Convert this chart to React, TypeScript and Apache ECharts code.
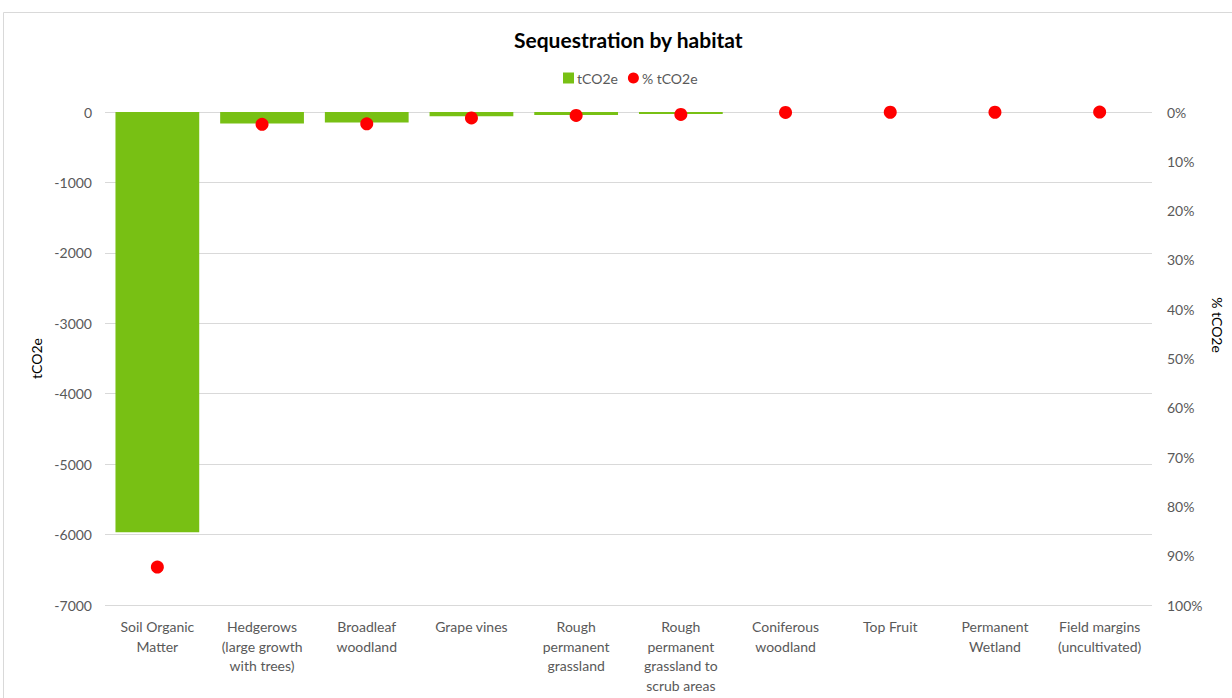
import React, { useEffect, useRef } from "react";
import * as echarts from "echarts";

// Habitat categories shown along the bottom axis
const habitats: string[] = [
  "Soil Organic\nMatter",
  "Hedgerows\n(large growth\nwith trees)",
  "Broadleaf\nwoodland",
  "Grape vines",
  "Rough\npermanent\ngrassland",
  "Rough\npermanent\ngrassland to\nscrub areas",
  "Coniferous\nwoodland",
  "Top Fruit",
  "Permanent\nWetland",
  "Field margins\n(uncultivated)",
];

// Sequestration per habitat (tCO2e, negative = removed)
const tco2e: number[] = [-5967, -165, -150, -61, -42, -28, 0, 0, 0, 0];

// Share of total sequestration per habitat (%)
const pctTco2e: number[] = [92.3, 2.5, 2.4, 1.2, 0.7, 0.5, 0.1, 0.05, 0.05, 0.02];

// Tick settings
const leftMin = -7000;
const leftMax = 0;
const leftStep = 1000;
const rightMin = 0;
const rightMax = 100;
const rightStep = 10;

const FONT = "Lato, 'Open Sans', sans-serif";
const TEXT = "#595959";
const GRID = "#d9d9d9";
const GREEN = "#78C014";
const RED = "#FF0000";

export default function App() {
  const ref = useRef<HTMLDivElement>(null);

  useEffect(() => {
    if (!ref.current) return;
    const chart = echarts.init(ref.current, undefined, { renderer: "svg" });
    chart.setOption({
      animation: false,
      backgroundColor: "#ffffff",
      textStyle: { fontFamily: FONT },
      title: {
        text: "Sequestration by habitat",
        left: 509,
        top: 24,
        textStyle: { fontFamily: FONT, fontSize: 21, fontWeight: "bold", color: "#000000" },
      },
      legend: {
        top: 66,
        left: 558,
        itemWidth: 11,
        itemHeight: 11,
        itemGap: 10,
        textStyle: { fontFamily: FONT, fontSize: 14, color: TEXT, padding: [0, 0, 0, -2] },
        data: [
          { name: "tCO2e", icon: "rect" },
          { name: "% tCO2e", icon: "circle", itemStyle: { color: RED, opacity: 1 } },
        ],
      },
      graphic: [
        {
          type: "rect",
          shape: { x: 3.5, y: 12.5, width: 1300, height: 800 },
          style: { fill: "none", stroke: GRID, lineWidth: 1 },
          silent: true,
        },
        {
          type: "text",
          x: 1217,
          y: 325,
          rotation: -Math.PI / 2,
          style: {
            text: "% tCO2e",
            fill: "#000000",
            font: `14px ${FONT}`,
            align: "center",
            verticalAlign: "middle",
          },
          silent: true,
        },
      ],
      grid: { left: 105, right: 80, top: 112, bottom: 93, containLabel: false },
      xAxis: {
        type: "category",
        data: habitats,
        position: "bottom",
        axisLine: { show: false },
        axisTick: { show: false },
        axisLabel: {
          interval: 0,
          color: TEXT,
          fontFamily: FONT,
          fontSize: 14,
          lineHeight: 19.5,
          margin: 12,
        },
      },
      yAxis: [
        {
          type: "value",
          min: leftMin,
          max: leftMax,
          interval: leftStep,
          name: "tCO2e",
          nameLocation: "middle",
          nameGap: 58,
          nameTextStyle: { color: "#000000", fontFamily: FONT, fontSize: 14 },
          axisLine: { show: false },
          axisTick: { show: false },
          splitLine: { lineStyle: { color: GRID, width: 1 } },
          axisLabel: {
            color: TEXT,
            fontFamily: FONT,
            fontSize: 14,
            margin: 13,
            formatter: (v: number) => String(v),
          },
        },
        {
          type: "value",
          min: rightMin,
          max: rightMax,
          interval: rightStep,
          inverse: true,
          position: "right",
          axisLine: { show: false },
          axisTick: { show: false },
          splitLine: { show: false },
          axisLabel: {
            color: TEXT,
            fontFamily: FONT,
            fontSize: 14,
            margin: 15,
            formatter: (v: number) => `${v}%`,
          },
        },
      ],
      series: [
        {
          name: "tCO2e",
          type: "bar",
          data: tco2e,
          yAxisIndex: 0,
          barCategoryGap: "20%",
          itemStyle: { color: GREEN },
        },
        {
          name: "% tCO2e",
          type: "scatter",
          data: pctTco2e,
          yAxisIndex: 1,
          symbol: "circle",
          symbolSize: 13,
          itemStyle: { color: RED, opacity: 1 },
          z: 5,
        },
      ],
    });
    return () => chart.dispose();
  }, []);

  return (
    <div
      ref={ref}
      style={{ position: "fixed", left: 0, top: 0, width: 1232, height: 698 }}
    />
  );
}
